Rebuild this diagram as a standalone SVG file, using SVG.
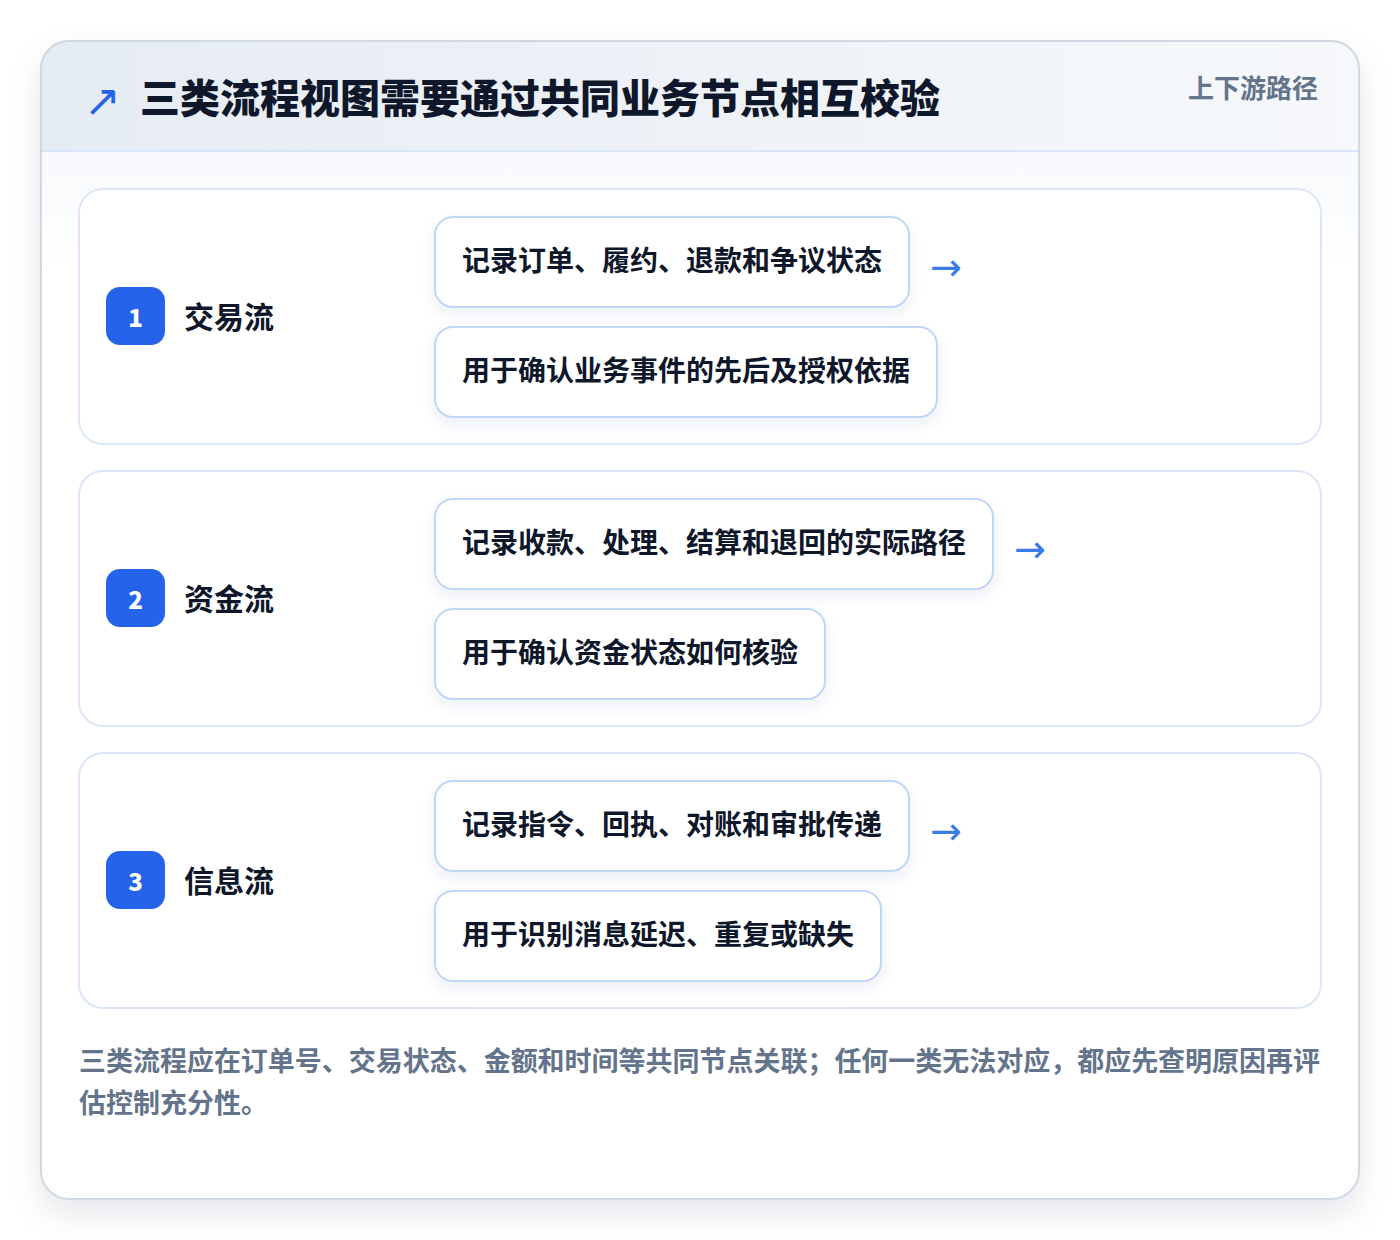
<svg xmlns="http://www.w3.org/2000/svg" width="1400" height="1240" viewBox="0 0 1400 1240">
<defs>
<linearGradient id="hdr" x1="0" y1="0" x2="1" y2="0">
<stop offset="0" stop-color="#e6ecf4"/>
<stop offset="1" stop-color="#f6f8fb"/>
</linearGradient>
<linearGradient id="body" x1="0" y1="0" x2="0" y2="1">
<stop offset="0" stop-color="#f7f9fc"/>
<stop offset="1" stop-color="#ffffff"/>
</linearGradient>
<filter id="cardShadow" x="-10%" y="-10%" width="120%" height="125%">
<feDropShadow dx="0" dy="14" stdDeviation="16" flood-color="#0f172a" flood-opacity="0.10"/>
</filter>
<filter id="pillShadow" x="-10%" y="-20%" width="120%" height="160%">
<feDropShadow dx="0" dy="6" stdDeviation="7" flood-color="#1e3a8a" flood-opacity="0.08"/>
</filter>
<clipPath id="cardClip"><rect x="41" y="41" width="1318" height="1158" rx="28"/></clipPath>
</defs>
<style>
text{font-family:"Noto Sans CJK SC","Noto Sans",sans-serif;font-weight:700}
.title{font-size:40px;fill:#0f172a;font-weight:900}
.tag{font-size:26px;fill:#64748b}
.sec{fill:#ffffff;stroke:#dbe7f7;stroke-width:2}
.badge{fill:#2563eb}
.num{font-size:24px;fill:#ffffff;font-weight:900}
.lbl{font-size:30px;fill:#0f172a}
.pill{fill:#ffffff;stroke:#bfd7f5;stroke-width:2}
.pt{font-size:28px;fill:#0f172a}
.arr{font-size:38px;fill:#3b7de6;font-family:"DejaVu Sans",sans-serif;font-weight:400}
.foot{font-size:27px;fill:#64748b}
</style>
<rect width="1400" height="1240" fill="#ffffff"/>
<g id="card">
<rect x="41" y="41" width="1318" height="1158" rx="28" fill="#ffffff" filter="url(#cardShadow)"/>
<g clip-path="url(#cardClip)">
<rect x="41" y="41" width="1318" height="110" fill="url(#hdr)"/>
<rect x="41" y="151" width="1318" height="120" fill="url(#body)"/>
</g>
<line x1="41" y1="151" x2="1359" y2="151" stroke="#d9e6f7" stroke-width="2"/>
<rect x="41" y="41" width="1318" height="1158" rx="28" fill="none" stroke="#cfd8e3" stroke-width="2"/>
</g>
<g id="header">
<text x="84" y="116" style="font-size:44px;fill:#2563eb;font-family:'DejaVu Sans',sans-serif;font-weight:400">↗</text>
<text class="title" x="140" y="113">三类流程视图需要通过共同业务节点相互校验</text>
<text class="tag" x="1318" y="98" text-anchor="end">上下游路径</text>
</g>
<g id="section1">
<rect class="sec" x="79" y="189" width="1242" height="255" rx="24"/>
<rect class="badge" x="106" y="287" width="59" height="58" rx="14"/>
<text class="num" x="135.5" y="327" text-anchor="middle">1</text>
<text class="lbl" x="184" y="328">交易流</text>
</g>
<g id="s1a">
<rect class="pill" x="435" y="217" width="474" height="90" rx="18" filter="url(#pillShadow)"/>
<text class="pt" x="462" y="271">记录订单、履约、退款和争议状态</text>
</g>
<g id="s1b">
<rect class="pill" x="435" y="327" width="502" height="90" rx="18" filter="url(#pillShadow)"/>
<text class="pt" x="462" y="381">用于确认业务事件的先后及授权依据</text>
</g>
<g id="section2">
<rect class="sec" x="79" y="471" width="1242" height="255" rx="24"/>
<rect class="badge" x="106" y="569" width="59" height="58" rx="14"/>
<text class="num" x="135.5" y="609" text-anchor="middle">2</text>
<text class="lbl" x="184" y="610">资金流</text>
</g>
<g id="s2a">
<rect class="pill" x="435" y="499" width="558" height="90" rx="18" filter="url(#pillShadow)"/>
<text class="pt" x="462" y="553">记录收款、处理、结算和退回的实际路径</text>
</g>
<g id="s2b">
<rect class="pill" x="435" y="609" width="390" height="90" rx="18" filter="url(#pillShadow)"/>
<text class="pt" x="462" y="663">用于确认资金状态如何核验</text>
</g>
<g id="section3">
<rect class="sec" x="79" y="753" width="1242" height="255" rx="24"/>
<rect class="badge" x="106" y="851" width="59" height="58" rx="14"/>
<text class="num" x="135.5" y="891" text-anchor="middle">3</text>
<text class="lbl" x="184" y="892">信息流</text>
</g>
<g id="s3a">
<rect class="pill" x="435" y="781" width="474" height="90" rx="18" filter="url(#pillShadow)"/>
<text class="pt" x="462" y="835">记录指令、回执、对账和审批传递</text>
</g>
<g id="s3b">
<rect class="pill" x="435" y="891" width="446" height="90" rx="18" filter="url(#pillShadow)"/>
<text class="pt" x="462" y="945">用于识别消息延迟、重复或缺失</text>
</g>
<g id="connectors">
<text class="arr" x="930" y="280">→</text>
<text class="arr" x="1014" y="562">→</text>
<text class="arr" x="930" y="844">→</text>
</g>
<g id="footer">
<text class="foot" x="79" y="1071" textLength="1241" lengthAdjust="spacing">三类流程应在订单号、交易状态、金额和时间等共同节点关联；任何一类无法对应，都应先查明原因再评</text>
<text class="foot" x="79" y="1113">估控制充分性。</text>
</g>
</svg>
